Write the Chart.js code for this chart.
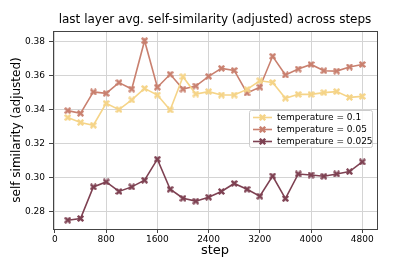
<!DOCTYPE html>
<html>
<head>
<meta charset="utf-8">
<script src="https://cdn.jsdelivr.net/npm/chart.js@4"></script>
<style>
  html, body { margin: 0; padding: 0; background: #fff; }
  #wrap { width: 420px; height: 262px; }
</style>
</head>
<body>
<div id="wrap"><canvas id="chart" width="420" height="262"></canvas></div>
<script>
// data
const steps = [200, 400, 600, 800, 1000, 1200, 1400, 1600, 1800, 2000, 2200, 2400,
               2600, 2800, 3000, 3200, 3400, 3600, 3800, 4000, 4200, 4400, 4600, 4800];
const temp01 = [0.3353, 0.3324, 0.3308, 0.3437, 0.3400, 0.3457, 0.3525, 0.3486, 0.3398, 0.3594, 0.3492, 0.3506,
                0.3486, 0.3486, 0.3519, 0.3570, 0.3560, 0.3467, 0.3490, 0.3490, 0.3500, 0.3506, 0.3472, 0.3478];
const temp005 = [0.3394, 0.3378, 0.3504, 0.3496, 0.3559, 0.3521, 0.3806, 0.3532, 0.3608, 0.3521, 0.3539, 0.3596,
                 0.3643, 0.3631, 0.3498, 0.3532, 0.3714, 0.3604, 0.3639, 0.3666, 0.3629, 0.3627, 0.3651, 0.3666];
const temp0025 = [0.2749, 0.2759, 0.2945, 0.2974, 0.2918, 0.2945, 0.2984, 0.3108, 0.2931, 0.2878, 0.2861, 0.2884,
                  0.2918, 0.2965, 0.2931, 0.2890, 0.3009, 0.2876, 0.3021, 0.3015, 0.3008, 0.3021, 0.3035, 0.3092];
const seriesLabels = ['temperature = 0.1', 'temperature = 0.05', 'temperature = 0.025'];
const xTicks = [0, 800, 1600, 2400, 3200, 4000, 4800];
const yTicks = [0.28, 0.30, 0.32, 0.34, 0.36, 0.38];
const chartTitle = 'last layer avg. self-similarity (adjusted) across steps';

const colors = ['#f5d488', '#c9806f', '#7e4152'];
const FONT = "'DejaVu Sans', sans-serif";

// filled "X" marker like matplotlib's 'X'
function xMarker(color) {
    const c = document.createElement('canvas');
    c.width = 7; c.height = 7;
    const g = c.getContext('2d');
    g.strokeStyle = color;
    g.lineWidth = 2.4;
    g.beginPath();
    g.moveTo(0.8, 0.8); g.lineTo(6.2, 6.2);
    g.moveTo(6.2, 0.8); g.lineTo(0.8, 6.2);
    g.stroke();
    g.fillStyle = color;
    g.fillRect(2, 2, 3, 3);
    return c;
}

const markers = colors.map(xMarker);

const makeSet = (label, values, i) => ({
    label: label,
    data: steps.map((s, k) => ({ x: s, y: values[k] })),
    borderColor: colors[i],
    backgroundColor: colors[i],
    borderWidth: 1.6,
    pointStyle: markers[i],
    pointRadius: 3.5,
    tension: 0
});

// title over the plot area, legend inside it, and the axes frame
const decorations = {
    id: 'decorations',
    afterDatasetsDraw(chart) {
        const ctx = chart.ctx;
        const area = chart.chartArea;
        const w = 123, h = 37;
        const x0 = area.right - 5 - w;
        const y0 = area.top + 79;
        ctx.save();
        ctx.fillStyle = 'rgba(255,255,255,0.8)';
        ctx.strokeStyle = '#cccccc';
        ctx.lineWidth = 1;
        ctx.beginPath();
        ctx.roundRect(x0 + 0.5, y0 + 0.5, w, h, 2);
        ctx.fill();
        ctx.stroke();
        ctx.font = '9px ' + FONT;
        ctx.textBaseline = 'middle';
        chart.data.datasets.forEach((ds, i) => {
            const y = y0 + 7.5 + i * 12;
            ctx.strokeStyle = ds.borderColor;
            ctx.lineWidth = 1.6;
            ctx.beginPath();
            ctx.moveTo(x0 + 4, y);
            ctx.lineTo(x0 + 23, y);
            ctx.stroke();
            ctx.drawImage(ds.pointStyle, x0 + 10, y - 3.5);
            ctx.fillStyle = '#000';
            ctx.fillText(ds.label, x0 + 28, y + 0.5);
        });
        ctx.restore();
    },
    afterDraw(chart) {
        const a = chart.chartArea;
        const ctx = chart.ctx;
        ctx.save();
        ctx.strokeStyle = '#444';
        ctx.lineWidth = 1;
        ctx.strokeRect(Math.round(a.left) + 0.5, Math.round(a.top) + 0.5,
                       Math.round(a.right - a.left), Math.round(a.bottom - a.top));
        ctx.fillStyle = '#000';
        ctx.font = '12px ' + FONT;
        ctx.textAlign = 'center';
        ctx.textBaseline = 'middle';
        ctx.fillText(chartTitle, (a.left + a.right) / 2, 20);
        ctx.restore();
    }
};

new Chart(document.getElementById('chart').getContext('2d'), {
    type: 'line',
    data: {
        datasets: [
            makeSet(seriesLabels[0], temp01, 0),
            makeSet(seriesLabels[1], temp005, 1),
            makeSet(seriesLabels[2], temp0025, 2)
        ]
    },
    options: {
        responsive: false,
        animation: false,
        layout: { padding: { top: 31, right: 43, left: 0, bottom: 0 } },
        plugins: {
            legend: { display: false },
            tooltip: { enabled: false },
            title: { display: false }
        },
        scales: {
            x: {
                type: 'linear',
                min: -30,
                max: 5030,
                afterBuildTicks: s => { s.ticks = xTicks.map(v => ({ value: v })); },
                afterFit: s => { s.height = 33; },
                grid: { color: '#d4d4d4', lineWidth: 1, tickColor: '#444', tickLength: 4 },
                border: { display: false },
                ticks: {
                    color: '#000', font: { family: FONT, size: 9 }, padding: 1,
                    maxRotation: 0, autoSkip: false,
                    callback: v => String(v)
                },
                title: {
                    display: true, text: 'step', color: '#000',
                    font: { family: FONT, size: 13 },
                    padding: { top: 0, bottom: 3.5 }
                }
            },
            y: {
                min: 0.2697,
                max: 0.3863,
                afterBuildTicks: s => { s.ticks = yTicks.map(v => ({ value: v })); },
                afterFit: s => { s.width = 53; },
                grid: { color: '#d4d4d4', lineWidth: 1, tickColor: '#444', tickLength: 4 },
                border: { display: false },
                ticks: {
                    color: '#000', font: { family: FONT, size: 9 }, padding: 4,
                    autoSkip: false,
                    callback: v => v.toFixed(2)
                },
                title: {
                    display: true, text: 'self similarity (adjusted)', color: '#000',
                    font: { family: FONT, size: 12 },
                    padding: { top: 10, bottom: 0 }
                }
            }
        }
    },
    plugins: [decorations]
});
</script>
</body>
</html>
